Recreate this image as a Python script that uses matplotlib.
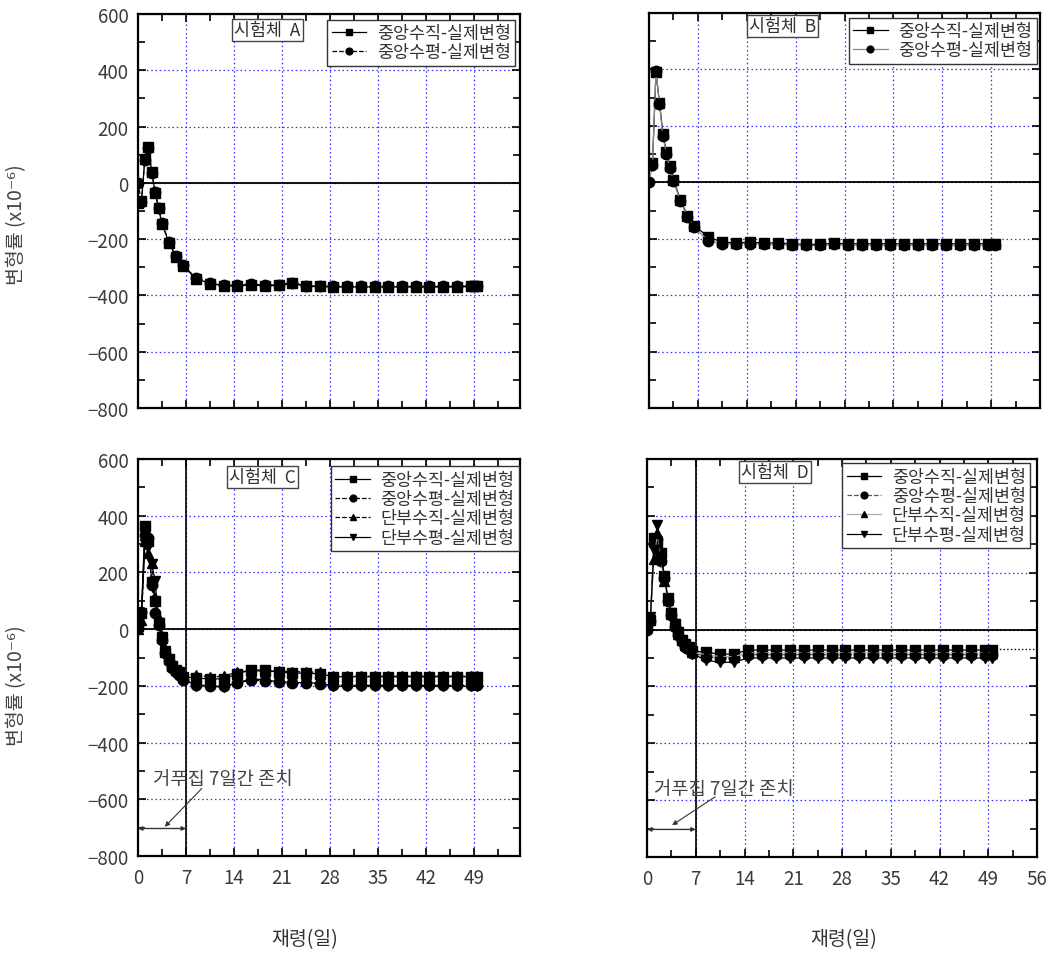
import matplotlib
matplotlib.use("Agg")
import matplotlib.pyplot as plt
from matplotlib.ticker import MultipleLocator

plt.rcParams['font.family'] = ['Noto Sans CJK KR', 'DejaVu Sans']
plt.rcParams['axes.unicode_minus'] = True

# --- data -------------------------------------------------------------------
days_ab = [0, 0.5, 1, 1.5, 2, 2.5, 3, 3.5, 4.5, 5.5, 6.5,
           8.5, 10.5, 12.5, 14.5, 16.5, 18.5, 20.5, 22.5, 24.5, 26.5, 28.5,
           30.5, 32.5, 34.5, 36.5, 38.5, 40.5, 42.5, 44.5, 46.5, 48.5, 49.5]
days_cd = [0, 0.5, 1, 1.5, 2, 2.5, 3, 3.5, 4, 4.5, 5, 5.5, 6, 6.5,
           8.5, 10.5, 12.5, 14.5, 16.5, 18.5, 20.5, 22.5, 24.5, 26.5, 28.5,
           30.5, 32.5, 34.5, 36.5, 38.5, 40.5, 42.5, 44.5, 46.5, 48.5, 49.5]

a_mid_v = [-70, -65, 85, 128, 40, -35, -90, -145, -212, -262, -295,
           -340, -358, -366, -366, -362, -366, -364, -357, -368, -368, -370,
           -370, -370, -370, -370, -370, -370, -370, -370, -370, -368, -368]
a_mid_h = [0, -68, 80, 124, 36, -32, -88, -142, -210, -260, -292,
           -338, -356, -364, -364, -360, -364, -362, -355, -366, -366, -368,
           -368, -368, -368, -368, -368, -368, -368, -368, -368, -366, -366]

b_mid_v = [60, 70, 390, 282, 170, 106, 57, 9, -62, -118, -154,
           -193, -213, -214, -213, -215, -215, -218, -220, -220, -216, -218,
           -218, -218, -218, -218, -218, -218, -218, -218, -218, -218, -218]
b_mid_h = [0, 62, 395, 276, 164, 100, 52, 4, -66, -122, -158,
           -208, -217, -218, -217, -219, -219, -222, -224, -224, -220, -222,
           -222, -222, -222, -222, -222, -222, -222, -222, -222, -222, -222]

c_mid_v = [10, 57, 362, 310, 168, 98, 21, -32, -79, -105, -130, -145, -152, -168,
           -172, -176, -175, -158, -143, -145, -152, -154, -156, -157, -168,
           -168, -168, -168, -168, -168, -168, -168, -168, -168, -168, -168]
c_mid_h = [15, 62, 333, 322, 157, 57, 15, -38, -85, -112, -136, -150, -160, -178,
           -196, -200, -202, -190, -180, -182, -188, -190, -191, -192, -198,
           -198, -198, -198, -198, -198, -198, -198, -198, -198, -198, -198]
c_end_v = [0, 33, 310, 269, 234, 111, 40, -25, -70, -100, -125, -140, -148, -162,
           -160, -170, -165, -152, -146, -148, -148, -150, -151, -152, -166,
           -166, -166, -166, -166, -166, -166, -166, -166, -166, -166, -166]
c_end_h = [5, 40, 300, 290, 230, 170, 23, -29, -76, -111, -134, -152, -160, -175,
           -199, -201, -205, -188, -176, -178, -186, -188, -189, -190, -202,
           -202, -202, -202, -202, -202, -202, -202, -202, -202, -202, -202]

d_mid_v = [20, 35, 323, 300, 270, 190, 112, 60, 20, -10, -35, -52, -62, -75,
           -80, -86, -86, -72, -72, -72, -72, -72, -72, -72, -72,
           -72, -72, -72, -72, -72, -72, -72, -72, -72, -72, -72]
d_mid_h = [0, 30, 300, 320, 240, 180, 100, 50, 10, -20, -40, -60, -70, -82,
           -95, -100, -100, -88, -88, -88, -88, -88, -88, -88, -88,
           -88, -88, -88, -88, -88, -88, -88, -88, -88, -88, -88]
d_end_v = [10, 40, 250, 340, 250, 170, 105, 55, 15, -15, -38, -56, -66, -80,
           -88, -95, -95, -82, -82, -82, -82, -82, -82, -82, -82,
           -82, -82, -82, -82, -82, -82, -82, -82, -82, -82, -82]
d_end_h = [30, 45, 280, 368, 255, 185, 108, 58, 18, -18, -42, -58, -70, -85,
           -108, -115, -115, -100, -100, -100, -100, -100, -100, -100, -100,
           -100, -100, -100, -100, -100, -100, -100, -100, -100, -100, -100]
d_tail_x = [49.5, 55.5]
d_tail_y = [-70, -70]

labels = ["중앙수직-실제변형", "중앙수평-실제변형", "단부수직-실제변형", "단부수평-실제변형"]
specimens = ["시험체  A", "시험체  B", "시험체  C", "시험체  D"]
note = "거푸집 7일간 존치"
x_ticks = [0, 7, 14, 21, 28, 35, 42, 49, 56]
y_ticks = [-800, -600, -400, -200, 0, 200, 400, 600]

W, H = 1061, 954
fig = plt.figure(figsize=(W / 100, H / 100), dpi=100)


def rect(l, t, r, b):
    return [l / W, 1 - b / H, (r - l) / W, (b - t) / H]


def panel(pos, xmax, series, spec, spec_xy, leg_xy, xlab, ylab):
    ax = fig.add_axes(pos)
    ax.set_xlim(0, xmax); ax.set_ylim(-800, 600)
    ax.set_xticks([t for t in x_ticks if t <= xmax]); ax.set_yticks(y_ticks)
    ax.xaxis.set_minor_locator(MultipleLocator(3.5))
    ax.yaxis.set_minor_locator(MultipleLocator(100))
    ax.tick_params(which="both", direction="in", top=True, right=True,
                   labelsize=13.5, labelcolor="#3a3a3a", width=1.2)
    ax.tick_params(which="major", length=6)
    ax.tick_params(which="minor", length=5)
    ax.tick_params(axis="x", pad=8)
    ax.tick_params(axis="y", pad=7)
    if not xlab:
        ax.tick_params(axis="x", labelbottom=False)
    if not ylab:
        ax.tick_params(axis="y", labelleft=False)
    for s in ax.spines.values():
        s.set_linewidth(1.6)
    ax.grid(True, which="major", color="#3030ff", linestyle=(0, (1.2, 2.2)), lw=0.9)
    ax.axhline(0, color="black", lw=1.3, zorder=2)
    for x, y, m, ms, lc, ls, lab in series:
        ax.plot(x, y, marker=m, ms=ms, color=lc, ls=ls, lw=0.9, mfc="black",
                mec="black", label=lab, zorder=3)
    leg = ax.legend(loc="upper right", bbox_to_anchor=leg_xy, bbox_transform=ax.transData,
                    fontsize=12.5, fancybox=False, framealpha=1, edgecolor="#333333",
                    handlelength=2.0, handletextpad=0.6, labelspacing=0.08,
                    borderpad=0.25, markerscale=0.65, borderaxespad=0)
    leg.get_frame().set_linewidth(1.0)
    for t in leg.get_texts():
        t.set_color("#333333")
    ax.text(spec_xy[0], spec_xy[1], spec, ha="right", va="center", fontsize=12.5,
            color="#333333",
            bbox=dict(boxstyle="square,pad=0.12", fc="white", ec="#444444", lw=1.0),
            zorder=5)
    return ax


def form_note(ax, tx, ty, arrow_from, arrow_to):
    ax.axvline(7, color="black", lw=1.2, zorder=2)
    ax.text(tx, ty, note, fontsize=13.5, color="#444444", va="center", ha="left")
    ax.annotate("", xy=(0, -703), xytext=(7, -703),
                arrowprops=dict(arrowstyle="<|-|>", color="#333333", lw=1.0,
                                mutation_scale=6, shrinkA=0, shrinkB=0))
    ax.annotate("", xy=arrow_to, xytext=arrow_from,
                arrowprops=dict(arrowstyle="-|>", color="#333333", lw=0.8,
                                mutation_scale=7, shrinkA=0, shrinkB=0))


ax_a = panel(rect(138, 15, 520, 409), 55.7,
             [(days_ab, a_mid_v, "s", 7, "black", "-", labels[0]),
              (days_ab, a_mid_h, "o", 7.5, "black", "--", labels[1])],
             specimens[0], (23.7, 543), (55.0, 580), False, True)

ax_b = panel(rect(649, 14, 1040, 409), 56,
             [(days_ab, b_mid_v, "s", 7, "black", "-", labels[0]),
              (days_ab, b_mid_h, "o", 7.5, "#888888", "-", labels[1])],
             specimens[1], (23.9, 553), (55.5, 584), False, False)

ax_c = panel(rect(138, 460, 520, 857), 55.7,
             [(days_cd, c_mid_v, "s", 7, "black", "-", labels[0]),
              (days_cd, c_mid_h, "o", 7.5, "black", "--", labels[1]),
              (days_cd, c_end_v, "^", 7.5, "black", "--", labels[2]),
              (days_cd, c_end_h, "v", 7.5, "black", "-", labels[3])],
             specimens[2], (23.0, 537), (55.5, 574), True, True)
form_note(ax_c, 2.2, -526, (9.3, -562), (3.9, -697))

ax_d = panel(rect(647, 460, 1037, 858), 56,
             [(days_cd, d_mid_v, "s", 7, "black", "-", labels[0]),
              (days_cd, d_mid_h, "o", 7.5, "#555555", "--", labels[1]),
              (days_cd, d_end_v, "^", 7.5, "#aaaaaa", "-", labels[2]),
              (days_cd, d_end_h, "v", 7.5, "black", "-", labels[3])],
             specimens[3], (23.2, 553), (55.0, 585), True, False)
ax_d.plot(d_tail_x, d_tail_y, color="black", ls=":", lw=1.0, zorder=3)
form_note(ax_d, 1.0, -559, (9.8, -588), (3.6, -688))

ylab = "변형률 (x10⁻⁶)"
fig.text(17 / W, 1 - 225 / H, ylab, rotation=90, ha="center", va="center",
         fontsize=14, color="#444444")
fig.text(17 / W, 1 - 686 / H, ylab, rotation=90, ha="center", va="center",
         fontsize=14, color="#444444")
fig.text(305 / W, 1 - 940 / H, "재령(일)", ha="center", va="center",
         fontsize=14, color="#333333")
fig.text(844 / W, 1 - 940 / H, "재령(일)", ha="center", va="center",
         fontsize=14, color="#333333")

fig.savefig("out.png", dpi=100)
plt.close(fig)
